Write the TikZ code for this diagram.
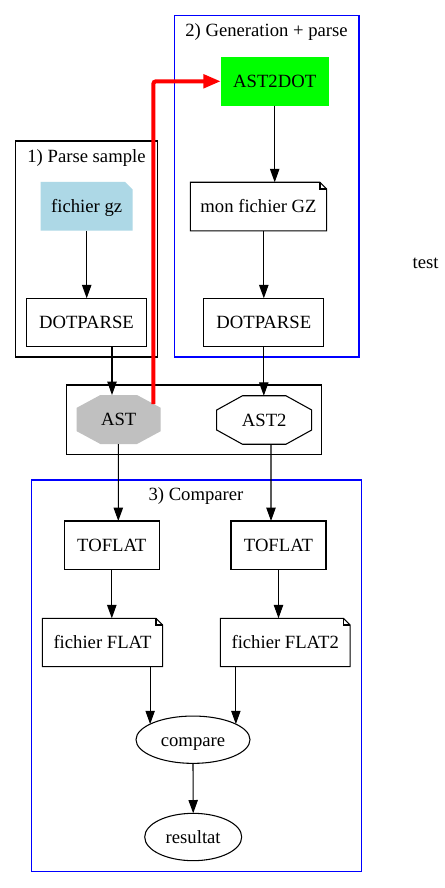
\documentclass[tikz,border=0pt]{standalone}
\usepackage{fontspec}
\setmainfont{Liberation Serif}
\newfontfamily\lserif{Liberation Serif}
\usetikzlibrary{arrows.meta,calc,backgrounds,shapes.geometric}
\definecolor{lb}{HTML}{ADD8E6}
\definecolor{grn}{HTML}{00FF00}
\definecolor{gr}{HTML}{C0C0C0}
\newcommand\octpath[3]{($(#1.north)+(-#2,0)$) -- ($(#1.north)+(#2,0)$) -- ($(#1.east)+(0,-#3)$) -- ($(#1.east)+(0,#3)$) -- ($(#1.south)+(#2,0)$) -- ($(#1.south)+(-#2,0)$) -- ($(#1.west)+(0,#3)$) -- ($(#1.west)+(0,-#3)$) -- cycle}
\newcommand\notepath[2]{%
  \draw[ln] (#1.north west) -- ($(#1.north east)+(-#2,0)$) -- ($(#1.north east)+(0,#2)$) -- (#1.south east) -- (#1.south west) -- cycle;
  \draw[ln] ($(#1.north east)+(-#2,0)$) -- ($(#1.north east)+(-#2,#2)$) -- ($(#1.north east)+(0,#2)$);}
\begin{document}
\begin{tikzpicture}[x=0.75pt,y=-0.75pt,
  every node/.style={font=\lserif\fontsize{14pt}{16pt}\selectfont, inner sep=0pt, outer sep=0pt, text height=9.5pt, text depth=0pt},
  ln/.style={line width=0.8pt},
  box/.style={draw, line width=0.8pt, rectangle, minimum height=36.3pt},
  plain/.style={rectangle, minimum height=36.5pt},
  oval/.style={draw, line width=0.8pt, ellipse, minimum height=35.5pt},
  arr/.style={line width=0.8pt, -{Triangle[length=10pt,width=7pt]}},
  clus/.style={line width=0.8pt}]
\useasboundingbox (0,0) rectangle (445,888);

% clusters
\draw[clus, blue] (174.3,15.7) rectangle (359,357);
\node (t2) at (266.5,30.3) {2) Generation + parse};
\draw[clus, black] (15.7,141) rectangle (157.3,357);
\node (t1) at (86.5,156.2) {1) Parse sample};
\draw[clus, black] (66.7,385) rectangle (321.5,454.3);
\draw[clus, blue] (31.7,480) rectangle (361.3,871.7);
\node (t3) at (196,494.3) {3) Comparer};

% nodes
\node[plain, fill=grn, minimum width=81pt] (AST2DOT) at (274.7,81.3) {AST2DOT};
\node[plain, minimum width=69pt] (fgz) at (86.7,206.3) {fichier gz};
\node[plain, minimum width=102.3pt, minimum height=36.5pt] (mon) at (258.5,206.6) {mon fichier GZ};
\node[box, minimum width=90.3pt] (DP1) at (86.5,322.5) {DOTPARSE};
\node[box, minimum width=90.2pt] (DP2) at (263.8,322.5) {DOTPARSE};
\node[plain, minimum width=63pt, minimum height=36.75pt] (AST) at (118.7,419.5) {AST};
\node[plain, minimum width=71.25pt, minimum height=36.4pt] (AST2) at (264.2,420) {AST2};
\node[box, minimum width=71.25pt] (TF1) at (111.8,545.2) {TOFLAT};
\node[box, minimum width=71.25pt] (TF2) at (278.5,545.2) {TOFLAT};
\node[plain, minimum width=90.3pt, minimum height=36.3pt] (FL1) at (102.5,642.5) {fichier FLAT};
\node[plain, minimum width=97.3pt, minimum height=36.3pt] (FL2) at (285.2,642.5) {fichier FLAT2};
\node[oval, minimum width=85.5pt] (cmp) at (193,739.7) {compare};
\node[oval, minimum width=72.75pt] (res) at (193.2,837) {resultat};
\node (test) at (425.7,262.3) {test};

% node outlines / fills
\begin{pgfonlayer}{background}
  \fill[white] (0,0) rectangle (445,888);
  \fill[lb] (fgz.north west) -- ($(fgz.north east)+(-7.7,0)$) -- ($(fgz.north east)+(0,7.7)$) -- (fgz.south east) -- (fgz.south west) -- cycle;
  \fill[gr] \octpath{AST}{18.3}{11.7};
\end{pgfonlayer}
\draw[ln] \octpath{AST2}{21.7}{10};
\notepath{mon}{6.7}
\notepath{FL1}{6.7}
\notepath{FL2}{6.7}

% edges
\draw[arr] (AST2DOT.south) -- (AST2DOT.south |- mon.north);
\draw[arr] (DP2.north |- mon.south) -- (DP2.north);
\draw[arr] (fgz.south) -- (fgz.south |- DP1.north);
\draw[arr] ($(DP1.south)+(25.5,0)$) -- ($(AST.north)+(-6.7,0)$);
\draw[arr] (DP2.south) -- (DP2.south |- AST2.north);
\draw[arr] ($(AST.south)+(-0.4,0)$) -- ($(TF1.north)+(6.5,0)$);
\draw[arr] ($(AST2.south)+(6.8,0)$) -- ($(TF2.north)+(-7.5,0)$);
\draw[arr] (TF1.south) -- (TF1.south |- FL1.north);
\draw[arr] (TF2.south) -- (TF2.south |- FL2.north);
\draw[arr] (FL1.south -| cmp.160.1) -- (cmp.160.1);
\draw[arr] (FL2.south -| cmp.20.9) -- (cmp.20.9);
\draw[arr] (cmp.south) -- (res.north);

% red edge
\coordinate (ASTr) at ($(AST.center)+(34.6,-15.5)$);
\draw[red, line width=3pt, rounded corners=2pt, -{Triangle[length=13pt,width=10pt]}] (ASTr) |- (AST2DOT.west);
\end{tikzpicture}
\end{document}
